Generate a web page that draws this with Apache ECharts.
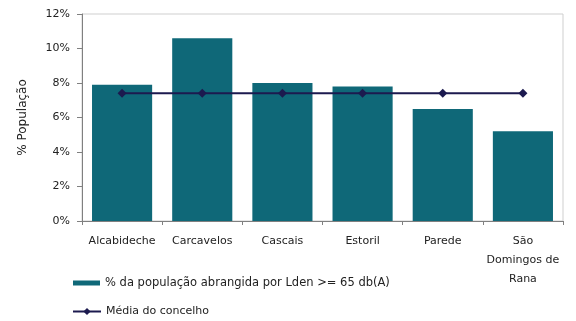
<!DOCTYPE html>
<html>
<head>
<meta charset="utf-8">
<script src="https://cdn.jsdelivr.net/npm/echarts@6/dist/echarts.min.js"></script>
<style>
  html, body { margin: 0; padding: 0; background: #ffffff; }
  #chart { width: 576px; height: 321px; }
</style>
</head>
<body>
<div id="chart"></div>
<script>
// Freguesias do concelho de Cascais
const categories = ['Alcabideche', 'Carcavelos', 'Cascais', 'Estoril', 'Parede', 'São\nDomingos de\nRana'];
// % da população abrangida por Lden >= 65 dB(A)
const exposedShare = [7.9, 10.6, 8.0, 7.8, 6.5, 5.2];
// Média do concelho
const councilAverage = [7.4, 7.4, 7.4, 7.4, 7.4, 7.4];
const yTicks = { min: 0, max: 12, interval: 2 };

const barName = '% da população abrangida por Lden >= 65 db(A)';
const lineName = 'Média do concelho';
const font = 'DejaVu Sans, Arial, sans-serif';

const chart = echarts.init(document.getElementById('chart'));
chart.setOption({
  animation: false,
  backgroundColor: '#ffffff',
  textStyle: { fontFamily: font },
  grid: {
    left: 82, right: 13, top: 14, bottom: 100,
    show: true, borderColor: '#cfcfcf', borderWidth: 1, backgroundColor: 'transparent'
  },
  legend: [
    {
      data: [barName], left: 73, top: 277, padding: 0,
      icon: 'rect', itemWidth: 27, itemHeight: 5,
      textStyle: { fontSize: 11.5, color: '#222', fontFamily: font }
    },
    {
      data: [lineName], left: 72, top: 306, padding: 0,
      itemWidth: 28, itemHeight: 9,
      textStyle: { fontSize: 11, color: '#222', fontFamily: font }
    }
  ],
  xAxis: {
    type: 'category',
    data: categories,
    axisLine: { lineStyle: { color: '#808080', width: 1 } },
    axisTick: { show: true, length: 4, lineStyle: { color: '#808080' } },
    axisLabel: { color: '#222', fontSize: 11, margin: 11, lineHeight: 19, interval: 0 }
  },
  yAxis: {
    type: 'value',
    min: yTicks.min, max: yTicks.max, interval: yTicks.interval,
    name: '% População',
    nameLocation: 'middle',
    nameGap: 53,
    nameTextStyle: { fontSize: 12, color: '#222' },
    axisLine: { show: true, lineStyle: { color: '#808080', width: 1 } },
    axisTick: { show: true, length: 5, lineStyle: { color: '#808080' } },
    axisLabel: { color: '#222', fontSize: 11, margin: 12, formatter: v => v + '%' },
    splitLine: { show: false }
  },
  series: [
    {
      name: barName,
      type: 'bar',
      data: exposedShare,
      barCategoryGap: '25%',
      itemStyle: { color: '#0f6878' }
    },
    {
      name: lineName,
      type: 'line',
      data: councilAverage,
      symbol: 'diamond',
      symbolSize: 9,
      lineStyle: { color: '#1c1a4f', width: 2 },
      itemStyle: { color: '#1c1a4f' }
    }
  ]
});
</script>
</body>
</html>
